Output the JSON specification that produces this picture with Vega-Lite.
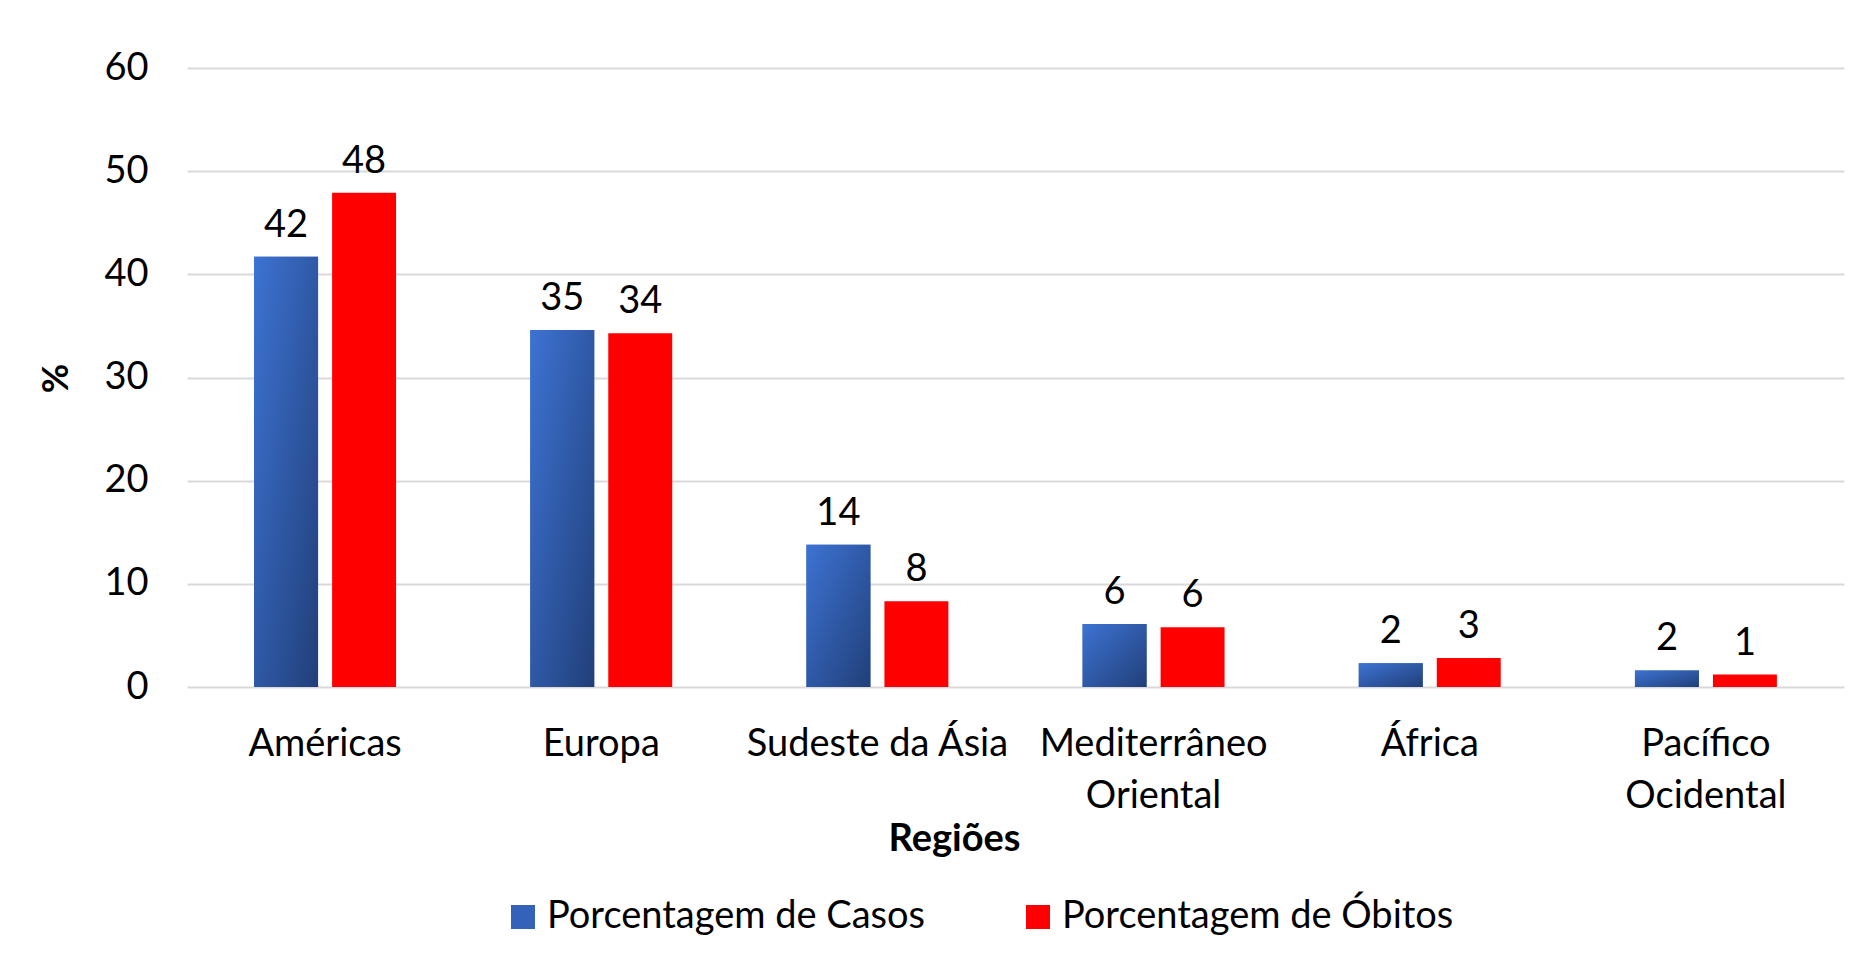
{
  "$schema": "https://vega.github.io/schema/vega-lite/v6.json",
  "autosize": {"type": "none"},
  "width": 1657,
  "height": 619,
  "padding": {"left": 187, "top": 68, "right": 24, "bottom": 266},
  "background": "white",
  "config": {
    "font": "Lato",
    "view": {"stroke": null},
    "axis": {"labelFont": "Lato", "titleFont": "Lato", "labelColor": "black", "titleColor": "black"}
  },
  "data": {
    "values": [
      {"regiao": "Américas", "serie": "Porcentagem de Casos", "valor": 41.7},
      {"regiao": "Américas", "serie": "Porcentagem de Óbitos", "valor": 47.9},
      {"regiao": "Europa", "serie": "Porcentagem de Casos", "valor": 34.6},
      {"regiao": "Europa", "serie": "Porcentagem de Óbitos", "valor": 34.3},
      {"regiao": "Sudeste da Ásia", "serie": "Porcentagem de Casos", "valor": 13.8},
      {"regiao": "Sudeste da Ásia", "serie": "Porcentagem de Óbitos", "valor": 8.3},
      {"regiao": "Mediterrâneo Oriental", "serie": "Porcentagem de Casos", "valor": 6.1},
      {"regiao": "Mediterrâneo Oriental", "serie": "Porcentagem de Óbitos", "valor": 5.8},
      {"regiao": "África", "serie": "Porcentagem de Casos", "valor": 2.3},
      {"regiao": "África", "serie": "Porcentagem de Óbitos", "valor": 2.8},
      {"regiao": "Pacífico Ocidental", "serie": "Porcentagem de Casos", "valor": 1.6},
      {"regiao": "Pacífico Ocidental", "serie": "Porcentagem de Óbitos", "valor": 1.2}
    ]
  },
  "encoding": {
    "x": {
      "field": "regiao",
      "type": "nominal",
      "sort": null,
      "scale": {"paddingInner": 0.486, "paddingOuter": 0.243},
      "axis": {
        "title": "Regiões",
        "titleFontSize": 38,
        "titleFontWeight": "bold",
        "titleX": 767,
        "titleY": 152,
        "titleAlign": "center",
        "titleBaseline": "middle",
        "labelAngle": 0,
        "labelFontSize": 38,
        "labelPadding": 38,
        "labelLineHeight": 52,
        "labelBaseline": "top",
        "labelLimit": 0,
        "labelExpr": "datum.label == 'Mediterrâneo Oriental' ? ['Mediterrâneo', 'Oriental'] : datum.label == 'Pacífico Ocidental' ? ['Pacífico', 'Ocidental'] : datum.label",
        "domain": false,
        "ticks": false,
        "grid": false
      }
    },
    "xOffset": {
      "field": "serie",
      "type": "nominal",
      "scale": {"domain": ["Porcentagem de Casos", "Porcentagem de Óbitos"], "paddingInner": 0.18, "paddingOuter": 0}
    },
    "y": {
      "field": "valor",
      "type": "quantitative",
      "scale": {"domain": [0, 60], "nice": false},
      "axis": {
        "title": "%",
        "titleFontSize": 36,
        "titleFontWeight": "bold",
        "titleX": -131,
        "titleY": 310,
        "titleAngle": -90,
        "titleBaseline": "middle",
        "titleAlign": "center",
        "values": [0, 10, 20, 30, 40, 50, 60],
        "labelFontSize": 38,
        "labelPadding": 39,
        "labelBaseline": "middle",
        "domain": false,
        "ticks": false,
        "gridColor": "#d9d9d9",
        "gridWidth": 2,
        "gridOpacity": 1
      }
    }
  },
  "layer": [
    {
      "mark": {"type": "bar"},
      "encoding": {
        "color": {
          "field": "serie",
          "type": "nominal",
          "scale": {
            "domain": ["Porcentagem de Casos", "Porcentagem de Óbitos"],
            "range": ["#3462bb", "#ff0000"]
          },
          "legend": {
            "title": null,
            "orient": "none",
            "legendX": 317,
            "legendY": 830,
            "direction": "horizontal",
            "columns": 2,
            "columnPadding": 93,
            "symbolType": "square",
            "symbolSize": 576,
            "symbolStrokeWidth": 0,
            "labelFontSize": 38,
            "labelFont": "Lato",
            "labelColor": "black",
            "labelOffset": 5,
            "labelLimit": 0
          }
        }
      }
    },
    {
      "transform": [{"filter": "datum.serie == 'Porcentagem de Casos'"}],
      "mark": {
        "type": "bar",
        "color": {"gradient": "linear", "x1": 0, "y1": 0, "x2": 1, "y2": 1,
          "stops": [{"offset": 0, "color": "#3d73d3"}, {"offset": 1, "color": "#213f79"}]}
      },
      "encoding": {}
    },
    {
      "mark": {"type": "text", "fontSize": 38, "baseline": "alphabetic", "dy": -20, "color": "black"},
      "encoding": {
        "text": {"field": "valor", "type": "quantitative", "format": ".0f"}
      }
    }
  ]
}
